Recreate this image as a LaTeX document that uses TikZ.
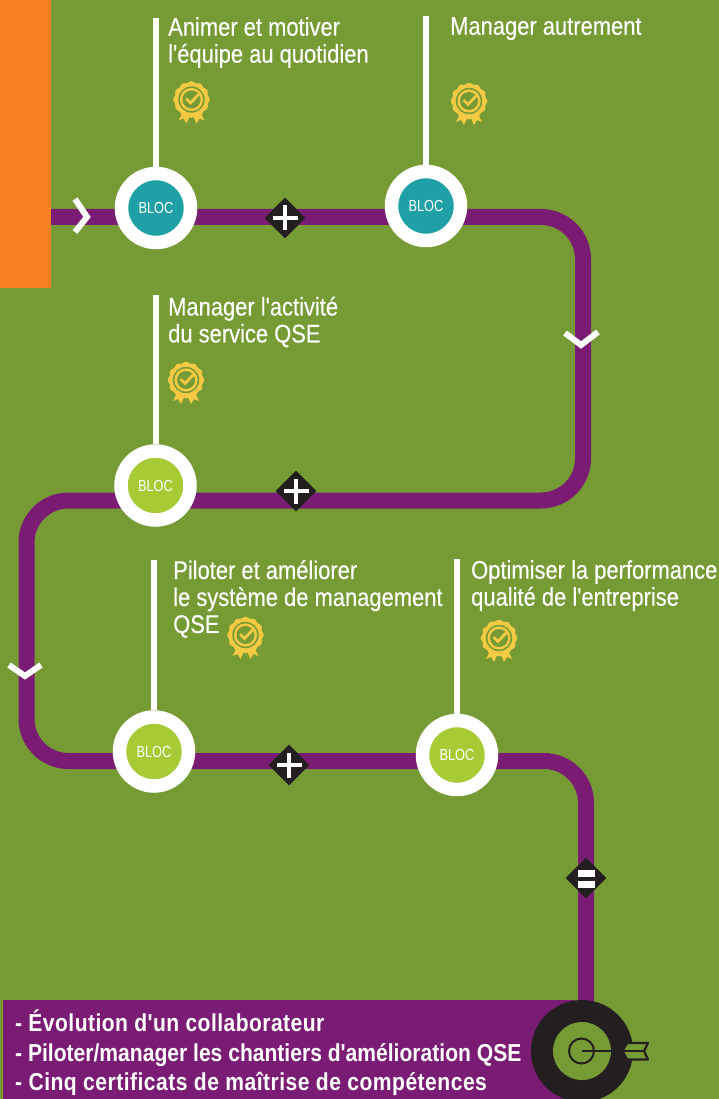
\documentclass[tikz,border=0pt]{standalone}
\usepackage{fontspec}
\setmainfont[FakeStretch=0.86,Ligatures=TeXOff,BoldFont={Liberation Sans Bold},BoldFeatures={FakeStretch=0.86}]{Liberation Sans}
\newfontfamily\blocfont[FakeStretch=0.80]{Liberation Sans}
\newfontfamily\labelfont[FakeStretch=0.86,FakeBold=0.25,Ligatures=TeXOff]{Liberation Sans}
\usetikzlibrary{calc,shapes.geometric}
\definecolor{bggreen}{HTML}{769B35}
\definecolor{pathpurple}{HTML}{7A1C74}
\definecolor{barorange}{HTML}{F88022}
\definecolor{tealfill}{HTML}{1FA0A6}
\definecolor{limefill}{HTML}{A6CB35}
\definecolor{darkink}{HTML}{231F20}
\definecolor{medalgold}{HTML}{F4C943}
\tikzset{
  track/.style={draw=pathpurple,line width=16pt,rounded corners=42pt},
  stem/.style={draw=white,line width=6pt},
  chev/.style={draw=white,line width=6pt,line cap=butt,line join=miter},
  blocring/.style={circle,draw=white,line width=13.5pt,minimum size=69pt,inner sep=0pt,text=white,font=\blocfont\fontsize{16}{16}\selectfont},
  teal/.style={blocring,fill=tealfill},
  lime/.style={blocring,fill=limefill},
  opdiamond/.style={diamond,fill=darkink,minimum size=41pt,inner sep=0pt,aspect=1},
  label/.style={anchor=north west,inner sep=0pt,align=left,text=white,font=\labelfont\fontsize{25.5}{27}\selectfont},
  pics/medal/.style={code={
    \fill[medalgold] (-8,11) -- (-13,21) -- (-8,19) -- (-5,24) -- (-1,15) -- cycle;
    \fill[medalgold] (8,11) -- (13,21) -- (8,19) -- (5,24) -- (1,15) -- cycle;
    \fill[medalgold] plot[smooth cycle,samples=48,domain=0:352.5] (\x:{17.6+0.8*cos(12*\x)});
    \fill[bggreen] (0,0) circle (13.2);
    \fill[medalgold] (0,0) circle (11.6);
    \fill[bggreen] (0,0) circle (9);
    \draw[medalgold,line width=2.8pt] (-5.5,-1) -- (-1,3.5) -- (7.5,-5.5);
  }}
}
\begin{document}
\begin{tikzpicture}[x=1pt,y=-1pt]
\useasboundingbox (0,0) rectangle (719,1099);
\fill[bggreen] (0,0) rectangle (719,1099);
\fill[barorange] (0,0) rectangle (51,288);

% route coordinates
\coordinate (start) at (51,217);
\coordinate (c1) at (583,217);
\coordinate (c2) at (583,500.5);
\coordinate (c3) at (26.5,500.5);
\coordinate (c4) at (26.5,761);
\coordinate (c5) at (586,761);
\coordinate (finish) at (586,1040);
\draw[track] (start) -- (c1) -- (c2) -- (c3) -- (c4) -- (c5) -- (finish);

% bottom banner
\fill[pathpurple] (3,1000) rectangle (575,1099);

% stems
\coordinate (s1) at (156,18);
\coordinate (s2) at (426,16);
\coordinate (s3) at (155.5,295);
\coordinate (s4) at (154,560);
\coordinate (s5) at (457,559);

% blocs
\node[teal] (b1) at (156,208) {BLOC};
\node[teal] (b2) at (426,206) {BLOC};
\node[lime] (b3) at (155.5,485.5) {BLOC};
\node[lime] (b4) at (154,751.5) {BLOC};
\node[lime] (b5) at (457,755) {BLOC};
\draw[stem] (s1) -- (b1.north);
\draw[stem] (s2) -- (b2.north);
\draw[stem] (s3) -- (b3.north);
\draw[stem] (s4) -- (b4.north);
\draw[stem] (s5) -- (b5.north);

% labels
\node[label] (t1) at (168,17) {Animer et motiver\\l'équipe au quotidien};
\node[label] (t2) at (450,17) {Manager autrement};
\node[label] (t3) at (168,296.5) {Manager l'activité\\du service QSE};
\node[label] (t4) at (173,560) {Piloter et améliorer\\le système de management\\QSE};
\node[label] (t5) at (471,560) {Optimiser la performance\\qualité de l'entreprise};

% medals
\path (191.5,99.5) pic {medal};
\path (469,101) pic {medal};
\path (186,380) pic {medal};
\path (245.5,635) pic {medal};
\path (499,638) pic {medal};

% chevrons
\draw[chev] (75,199) -- (87,217) -- (75,232);
\draw[chev] (565,333) -- (581,345) -- (598,332);
\draw[chev] (9,665) -- (25,676) -- (41,665);

% operators
\node[opdiamond] (d1) at (285,218) {};
\node[opdiamond] (d2) at (296,491) {};
\node[opdiamond] (d3) at (289,765) {};
\node[opdiamond] (d4) at (586,878) {};
\foreach \d in {d1,d2,d3}{
  \fill[white] ($(\d)+(-12.5,-2.4)$) rectangle ($(\d)+(12.5,2.4)$);
  \fill[white] ($(\d)+(-2.4,-12.5)$) rectangle ($(\d)+(2.4,12.5)$);
}
\fill[white] ($(d4)+(-8.5,-8)$) rectangle ($(d4)+(8.5,-1.5)$);
\fill[white] ($(d4)+(-8.5,3)$) rectangle ($(d4)+(8.5,10)$);

% banner text
\node[anchor=north west,inner sep=0pt,align=left,text=white,font=\fontsize{24.5}{29.5}\selectfont\bfseries] (bt) at (15,1010)
  {{\addfontfeature{LetterSpace=1.8}- Évolution d'un collaborateur}\\- Piloter/manager les chantiers d'amélioration QSE\\{\addfontfeature{LetterSpace=2}- Cinq certificats de maîtrise de compétences}};

% target
\node[circle,fill=darkink,minimum size=102pt,inner sep=0pt] (tg) at (582,1051) {};
\node[circle,fill=bggreen,minimum size=58pt,inner sep=0pt] (tgi) at (582,1051) {};
\node[circle,draw=darkink,line width=2pt,minimum size=25pt,inner sep=0pt,fill=none] (tgc) at (581.5,1051) {};
\draw[darkink,line width=2pt] (tgc.center) -- (611,1051);
\filldraw[fill=bggreen,draw=darkink,line width=2.2pt,line join=round]
  (622.5,1051) -- (627,1043) -- (648,1043) -- (644,1051) -- (648,1059.5) -- (627,1059.5) -- cycle;
\draw[darkink,line width=2pt] (622.5,1051) -- (644,1051);
\end{tikzpicture}
\end{document}
